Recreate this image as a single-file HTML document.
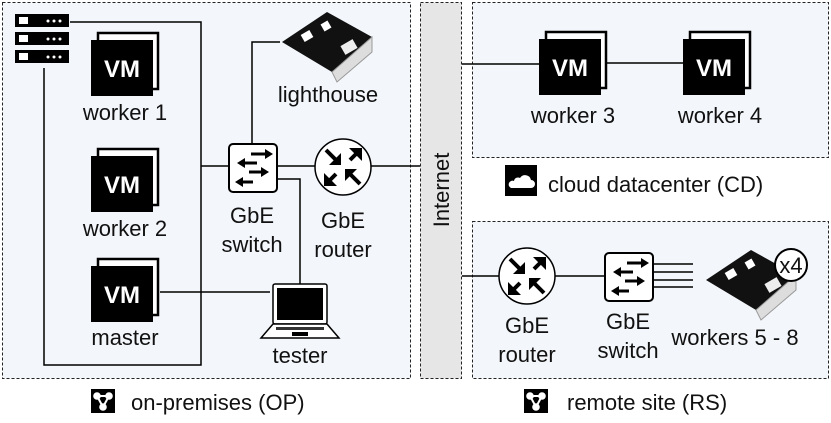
<!DOCTYPE html>
<html><head><meta charset="utf-8"><style>
html,body{margin:0;padding:0;background:#fff}
svg{display:block}
text{font-family:"Liberation Sans",sans-serif;font-size:22px;fill:#111}
</style></head><body>
<svg width="831" height="423" viewBox="0 0 831 423" xmlns="http://www.w3.org/2000/svg">
<defs>
<g id="vm">
 <rect x="7" y="-7" width="60" height="56" fill="#fff" stroke="#000" stroke-width="2.5"/>
 <rect x="0" y="0" width="62" height="56" fill="#000"/>
 <text x="31" y="37" text-anchor="middle" style="font-weight:bold;font-size:24px;fill:#fff">VM</text>
</g>
<g id="sw">
 <rect x="0" y="0" width="48" height="48" rx="4" fill="#fff" stroke="#000" stroke-width="2"/>
 <g stroke="#000" stroke-width="3" fill="#000">
  <line x1="22" y1="10" x2="38" y2="10"/><polygon points="44,10 36,5 36,15" stroke="none"/>
  <line x1="14" y1="19" x2="28" y2="19"/><polygon points="8,19 16,14 16,24" stroke="none"/>
  <line x1="20" y1="28" x2="34" y2="28"/><polygon points="40,28 32,23 32,33" stroke="none"/>
  <line x1="12" y1="38" x2="24" y2="38"/><polygon points="6,38 14,33 14,43" stroke="none"/>
 </g>
</g>
<g id="rt">
 <circle cx="0" cy="0" r="28" fill="#fff" stroke="#000" stroke-width="1.5"/>
 <g stroke="#000" stroke-width="4">
  <line x1="-17" y1="-17" x2="-7" y2="-7"/><line x1="17" y1="-17" x2="7" y2="-7"/>
  <line x1="-17" y1="17" x2="-7" y2="7"/><line x1="17" y1="17" x2="7" y2="7"/>
 </g>
 <g fill="#000">
  <polygon points="-2,-2 -14,-2 -2,-14"/><polygon points="19,-19 6,-19 19,-6"/>
  <polygon points="-19,19 -6,19 -19,6"/><polygon points="2,2 14,2 2,14"/>
 </g>
</g>
<g id="pi">
 <polygon points="0,30 45,0 90,25 50,60" fill="#111"/>
 <polygon points="50,60 90,25 90,40 55,70" fill="#ddd" stroke="#999"/>
 <rect x="20" y="20" width="10" height="8" fill="#fff" transform="rotate(-30 25 24)"/>
 <rect x="40" y="10" width="8" height="8" fill="#fff" transform="rotate(-30 44 14)"/>
 <rect x="60" y="30" width="14" height="10" fill="#eee" transform="rotate(-30 67 35)"/>
</g>
<g id="net">
 <rect x="0" y="0" width="24" height="24" fill="#000"/>
 <g stroke="#fff" stroke-width="2"><line x1="6" y1="7" x2="12" y2="18"/><line x1="18" y1="7" x2="12" y2="18"/><line x1="6" y1="7" x2="18" y2="7"/></g>
 <circle cx="6" cy="7" r="3.8" fill="#fff"/><circle cx="18" cy="7" r="3.8" fill="#fff"/><circle cx="12" cy="18" r="3.8" fill="#fff"/>
</g>
</defs>

<rect x="2.5" y="2.5" width="408" height="376" fill="#f3f6fa" stroke="#222" stroke-width="1" stroke-dasharray="3,2"/>
<rect x="420.5" y="2.5" width="41" height="376" fill="#e6e6e6" stroke="#222" stroke-width="1" stroke-dasharray="3,2"/>
<rect x="472.5" y="2.5" width="356" height="155" fill="#f3f6fa" stroke="#222" stroke-width="1" stroke-dasharray="3,2"/>
<rect x="472.5" y="221.5" width="356" height="157" fill="#f3f6fa" stroke="#222" stroke-width="1" stroke-dasharray="3,2"/>
<text transform="translate(449 190) rotate(-90)" text-anchor="middle">Internet</text>

<g stroke="#000" stroke-width="1.5" fill="none">
 <polyline points="70,22 201,22 201,365 44,365 44,68"/>
 <line x1="201" y1="166" x2="229" y2="166"/>
 <polyline points="252,144 252,42 280,42"/>
 <line x1="277" y1="166" x2="315" y2="166"/>
 <polyline points="277,179 300,179 300,284"/>
 <line x1="371" y1="166" x2="420" y2="166"/>
 <line x1="160" y1="292" x2="270" y2="292"/>
 <line x1="462" y1="64" x2="540" y2="64"/>
 <line x1="602" y1="63" x2="683" y2="63"/>
 <line x1="462" y1="276" x2="499" y2="276"/>
 <line x1="555" y1="276" x2="605" y2="276"/>
 <line x1="653" y1="264" x2="693" y2="264"/>
 <line x1="653" y1="272" x2="693" y2="272"/>
 <line x1="653" y1="280" x2="693" y2="280"/>
 <line x1="653" y1="287" x2="693" y2="287"/>
</g>

<g>
 <rect x="15" y="14" width="54" height="13" fill="#000"/>
 <rect x="15" y="32" width="54" height="13" fill="#000"/>
 <rect x="15" y="50" width="54" height="13" fill="#000"/>
 <g fill="#fff">
  <rect x="19" y="17" width="9" height="7"/><rect x="19" y="35" width="9" height="7"/><rect x="19" y="53" width="9" height="7"/>
  <circle cx="48" cy="21" r="1.5"/><circle cx="54" cy="21" r="1.5"/><circle cx="60" cy="21" r="1.5"/>
  <circle cx="48" cy="39" r="1.5"/><circle cx="54" cy="39" r="1.5"/><circle cx="60" cy="39" r="1.5"/>
  <circle cx="48" cy="57" r="1.5"/><circle cx="54" cy="57" r="1.5"/><circle cx="60" cy="57" r="1.5"/>
 </g>
</g>

<use href="#vm" x="91" y="40"/>
<text x="125" y="120" text-anchor="middle">worker 1</text>
<use href="#vm" x="91" y="156"/>
<text x="125" y="236" text-anchor="middle">worker 2</text>
<use href="#vm" x="91" y="266"/>
<text x="125" y="345" text-anchor="middle">master</text>

<use href="#pi" x="282" y="12"/>
<text x="328" y="102" text-anchor="middle">lighthouse</text>

<use href="#sw" x="229" y="144"/>
<text x="252" y="223" text-anchor="middle">GbE</text>
<text x="252" y="252" text-anchor="middle">switch</text>
<use href="#rt" x="343" y="167"/>
<text x="343" y="228" text-anchor="middle">GbE</text>
<text x="343" y="257" text-anchor="middle">router</text>

<rect x="273" y="284" width="54" height="40" rx="2" fill="#fff" stroke="#000" stroke-width="1.5"/>
<rect x="277" y="288" width="46" height="32" fill="#000"/>
<polygon points="273,324 327,324 339,338 261,338" fill="#fff" stroke="#000" stroke-width="1.5"/>
<rect x="276" y="327" width="48" height="3" fill="#333"/>
<rect x="292" y="332" width="16" height="4" fill="#000"/>
<text x="300" y="363" text-anchor="middle">tester</text>

<use href="#vm" x="539" y="39"/>
<text x="573" y="123" text-anchor="middle">worker 3</text>
<use href="#vm" x="683" y="39"/>
<text x="720" y="123" text-anchor="middle">worker 4</text>
<rect x="505" y="165" width="32" height="31" fill="#000"/>
<path d="M511,188 h20 a4,4 0 0 0 0,-8 a6,6 0 0 0 -11,-2 a4,4 0 0 0 -6,3 a3.5,3.5 0 0 0 -3,7z" fill="#fff"/>
<text x="548" y="192">cloud datacenter (CD)</text>

<use href="#rt" x="527" y="276"/>
<text x="527" y="333" text-anchor="middle">GbE</text>
<text x="527" y="362" text-anchor="middle">router</text>
<use href="#sw" x="605" y="253"/>
<text x="628" y="329" text-anchor="middle">GbE</text>
<text x="628" y="358" text-anchor="middle">switch</text>
<use href="#pi" x="706" y="250"/>
<circle cx="791" cy="265" r="16" fill="#fff" stroke="#000" stroke-width="2"/>
<text x="791" y="273" text-anchor="middle">x4</text>
<text x="735" y="345" text-anchor="middle">workers 5 - 8</text>

<use href="#net" x="91" y="389"/>
<text x="131" y="410">on-premises (OP)</text>
<use href="#net" x="524" y="389"/>
<text x="567" y="410">remote site (RS)</text>
</svg>
</body></html>
